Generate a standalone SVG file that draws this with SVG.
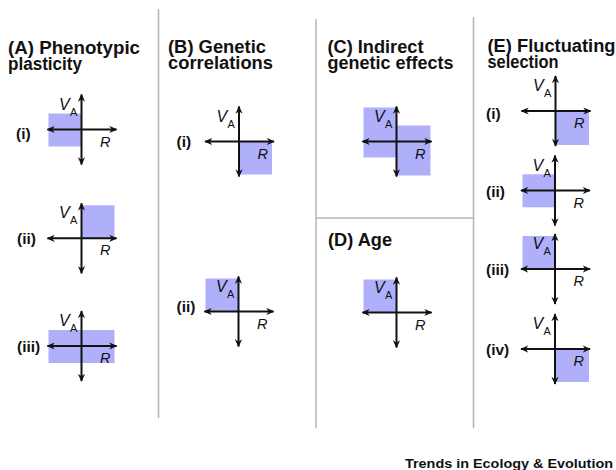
<svg xmlns="http://www.w3.org/2000/svg" width="616" height="470" viewBox="0 0 616 470">
<style>
.title{font-family:"Liberation Sans",Arial,sans-serif;font-weight:bold;font-size:18px;fill:#111}
.lab{font-family:"Liberation Sans",Arial,sans-serif;font-weight:bold;font-size:15.5px;fill:#111}
.v{font-family:"Liberation Sans",Arial,sans-serif;font-style:italic;font-size:16px;fill:#111}
.sub{font-family:"Liberation Sans",Arial,sans-serif;font-size:11px;fill:#111}
.r{font-family:"Liberation Sans",Arial,sans-serif;font-style:italic;font-size:14.5px;fill:#111}
.shade{fill:#b0b0fa}
.ax{stroke:#111;stroke-width:2;fill:none;marker-start:url(#ah);marker-end:url(#ah)}
.div{stroke:#b4b4b4;stroke-width:1.5;fill:none}
.foot{font-family:"Liberation Sans",Arial,sans-serif;font-weight:bold;font-size:13px;fill:#111}
</style>
<defs>
<marker id="ah" viewBox="0 0 10 10" refX="9" refY="5" markerWidth="4" markerHeight="4" orient="auto-start-reverse" markerUnits="strokeWidth">
<path d="M0,0.5 L10,5 L0,9.5 L3,5 z" fill="#111"/>
</marker>
<g id="axes">
<line class="ax" x1="-34" y1="0" x2="35" y2="0"/>
<line class="ax" x1="0" y1="35" x2="0" y2="-35"/>
<text class="v" x="-22.5" y="-20">V</text>
<text class="sub" x="-11.5" y="-14">A</text>
<text class="r" x="18.5" y="17">R</text>
</g>
</defs>
<g id="dividers">
<line class="div" x1="158.5" y1="9" x2="158.5" y2="418"/>
<line class="div" x1="316" y1="19" x2="316" y2="428"/>
<line class="div" x1="473.5" y1="17" x2="473.5" y2="428"/>
<line class="div" x1="316" y1="218" x2="473.5" y2="218"/>
</g>
<g id="titles">
<text class="title" x="8" y="53.5" textLength="132" lengthAdjust="spacingAndGlyphs">(A) Phenotypic</text>
<text class="title" x="8" y="69.5" textLength="74" lengthAdjust="spacingAndGlyphs">plasticity</text>
<text class="title" x="168" y="52.5" textLength="98" lengthAdjust="spacingAndGlyphs">(B) Genetic</text>
<text class="title" x="168" y="68.5" textLength="105" lengthAdjust="spacingAndGlyphs">correlations</text>
<text class="title" x="327.5" y="52.5" textLength="96" lengthAdjust="spacingAndGlyphs">(C) Indirect</text>
<text class="title" x="327.5" y="68.5" textLength="126" lengthAdjust="spacingAndGlyphs">genetic effects</text>
<text class="title" x="328" y="246" textLength="64" lengthAdjust="spacingAndGlyphs">(D) Age</text>
<text class="title" x="487.5" y="52" textLength="128" lengthAdjust="spacingAndGlyphs">(E) Fluctuating</text>
<text class="title" x="487.5" y="68" textLength="71" lengthAdjust="spacingAndGlyphs">selection</text>
</g>
<g id="A-i">
<rect class="shade" x="48.5" y="113.5" width="33" height="33"/>
<use href="#axes" transform="translate(81.5,129.5)"/>
<text class="lab" x="16" y="138.5">(i)</text>
</g>
<g id="A-ii">
<rect class="shade" x="81.5" y="205.3" width="33" height="33"/>
<use href="#axes" transform="translate(81.5,238.3)"/>
<text class="lab" x="17" y="244">(ii)</text>
</g>
<g id="A-iii">
<rect class="shade" x="48.5" y="330" width="66" height="33"/>
<use href="#axes" transform="translate(81.5,346)"/>
<text class="lab" x="17" y="352">(iii)</text>
</g>
<g id="B-i">
<rect class="shade" x="239" y="141.5" width="33" height="33"/>
<use href="#axes" transform="translate(239,141.5)"/>
<text class="lab" x="176.5" y="147">(i)</text>
</g>
<g id="B-ii">
<rect class="shade" x="205.5" y="278.5" width="33" height="33"/>
<use href="#axes" transform="translate(238.5,311.5)"/>
<text class="lab" x="176.5" y="312">(ii)</text>
</g>
<g id="C">
<rect class="shade" x="363.5" y="107.5" width="33" height="50"/>
<rect class="shade" x="396.5" y="125.5" width="34" height="50"/>
<use href="#axes" transform="translate(396.5,141.5)"/>
</g>
<g id="D">
<rect class="shade" x="363.5" y="279.5" width="33" height="33"/>
<use href="#axes" transform="translate(396.5,312.5)"/>
</g>
<g id="E-i">
<rect class="shade" x="555.5" y="111" width="33.5" height="34"/>
<use href="#axes" transform="translate(555.5,111)"/>
<text class="lab" x="486" y="118.5">(i)</text>
</g>
<g id="E-ii">
<rect class="shade" x="522.5" y="174.3" width="32.5" height="33"/>
<use href="#axes" transform="translate(555,190.5)"/>
<text class="lab" x="486" y="197">(ii)</text>
</g>
<g id="E-iii">
<rect class="shade" x="522.5" y="236" width="32.5" height="33"/>
<use href="#axes" transform="translate(555,269)"/>
<text class="lab" x="486" y="275">(iii)</text>
</g>
<g id="E-iv">
<rect class="shade" x="555" y="349" width="34" height="33"/>
<use href="#axes" transform="translate(555,349)"/>
<text class="lab" x="486" y="355">(iv)</text>
</g>
<text class="foot" x="405" y="468" textLength="208" lengthAdjust="spacingAndGlyphs">Trends in Ecology &amp; Evolution</text>
</svg>
